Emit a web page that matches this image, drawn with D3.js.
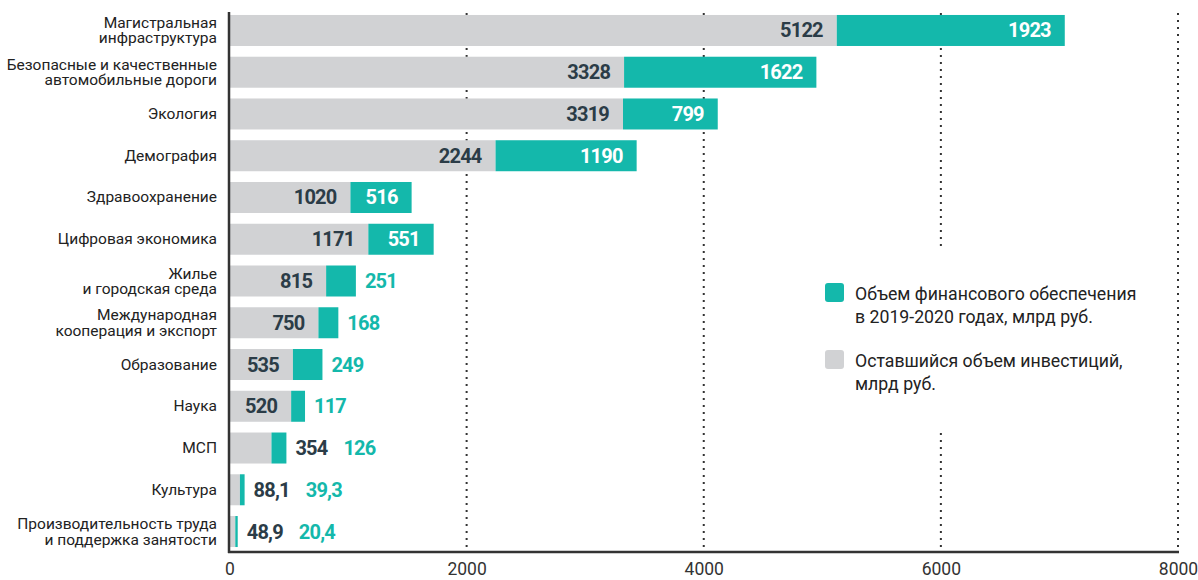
<!DOCTYPE html>
<html lang="ru">
<head>
<meta charset="utf-8">
<script src="https://cdn.jsdelivr.net/npm/d3@7"></script>
<style>
    html, body { margin: 0; padding: 0; background: #fff; }
    svg { display: block; font-family: Roboto, "Noto Sans", sans-serif; }
</style>
</head>
<body>
<svg id="chart" width="1198" height="580"></svg>
<script>
// national projects, bln rub
const categories = [
    "Магистральная\nинфраструктура",
    "Безопасные и качественные\nавтомобильные дороги",
    "Экология",
    "Демография",
    "Здравоохранение",
    "Цифровая экономика",
    "Жилье\nи городская среда",
    "Международная\nкооперация и экспорт",
    "Образование",
    "Наука",
    "МСП",
    "Культура",
    "Производительность труда\nи поддержка занятости",
];
const remaining = [5122, 3328, 3319, 2244, 1020, 1171, 815, 750, 535, 520, 354, 88.1, 48.9];
const funded = [1923, 1622, 799, 1190, 516, 551, 251, 168, 249, 117, 126, 39.3, 20.4];
const xTicks = [0, 2000, 4000, 6000, 8000];
const legendItems = [
    "Объем финансового обеспечения\nв 2019-2020 годах, млрд руб.",
    "Оставшийся объем инвестиций,\nмлрд руб.",
];

const TEAL = "#14b8ab";
const GRAY = "#d1d2d4";
const DARK = "#2b3c47";
const AXIS = "#333";

const svg = d3.select("#chart");

const x = d3.scaleLinear()
    .domain([0, 8000])
    .range([229.5, 1178]);

const y = d3.scaleBand()
    .domain(categories)
    .range([9.6, 552.4])
    .paddingInner(0.2575)
    .paddingOuter(0.1287);

const fmt = v => String(v).replace(".", ",");

// dotted grid, sits behind the bars
svg.append("g")
    .selectAll("line")
    .data(xTicks.filter(t => t > 0))
    .join("line")
    .attr("x1", d => x(d))
    .attr("x2", d => x(d))
    .attr("y1", 13)
    .attr("y2", 551)
    .attr("stroke", AXIS)
    .attr("stroke-width", 2)
    .attr("stroke-dasharray", "2,5");

// bars
const rows = categories.map((c, i) => ({ cat: c, rem: remaining[i], fund: funded[i] }));

const barG = svg.append("g");
barG.selectAll("rect.rem")
    .data(rows)
    .join("rect")
    .attr("class", "rem")
    .attr("x", x(0))
    .attr("y", d => y(d.cat))
    .attr("width", d => x(d.rem) - x(0))
    .attr("height", y.bandwidth())
    .attr("fill", GRAY);
barG.selectAll("rect.fund")
    .data(rows)
    .join("rect")
    .attr("class", "fund")
    .attr("x", d => x(d.rem))
    .attr("y", d => y(d.cat))
    .attr("width", d => x(d.rem + d.fund) - x(d.rem))
    .attr("height", y.bandwidth())
    .attr("fill", TEAL);

// value labels: inside the segment when it fits, otherwise after the bar
const PAD = 14;
const labelG = svg.append("g")
    .attr("font-weight", 700)
    .attr("font-size", 20)
    .attr("letter-spacing", -0.8);

rows.forEach(d => {
    const cy = y(d.cat) + y.bandwidth() / 2 + 7;
    const x0 = x(0), x1 = x(d.rem), x2 = x(d.rem + d.fund);

    const remText = labelG.append("text").attr("y", cy).attr("fill", DARK).text(fmt(d.rem));
    const remW = remText.node().getComputedTextLength();
    let cursor = x2 + 9;
    if (x1 - x0 >= remW + 20) {
        remText.attr("x", x1 - PAD).attr("text-anchor", "end");
    } else {
        remText.attr("x", cursor);
        cursor += remW + 16;
    }

    const fundText = labelG.append("text").attr("y", cy).text(fmt(d.fund));
    const fundW = fundText.node().getComputedTextLength();
    if (x2 - x1 >= fundW + 20) {
        fundText.attr("x", x2 - PAD).attr("text-anchor", "end").attr("fill", "#fff");
    } else {
        fundText.attr("x", cursor).attr("fill", TEAL);
    }
});

// category labels
const catG = svg.append("g")
    .attr("font-size", 15.5)
    .attr("fill", "#222")
    .attr("text-anchor", "end");

categories.forEach(c => {
    const lines = c.split("\n");
    const cy = y(c) + y.bandwidth() / 2;
    const t = catG.append("text")
        .attr("x", 217)
        .attr("y", lines.length === 1 ? cy + 5 : cy - 2.5);
    lines.forEach((line, i) => {
        t.append("tspan")
            .attr("x", 217)
            .attr("dy", i === 0 ? 0 : 15.5)
            .text(line);
    });
});

// axes
svg.append("line")
    .attr("x1", 229).attr("x2", 229)
    .attr("y1", 12).attr("y2", 553)
    .attr("stroke", AXIS)
    .attr("stroke-width", 2.5);
svg.append("line")
    .attr("x1", 228).attr("x2", 1179)
    .attr("y1", 552).attr("y2", 552)
    .attr("stroke", AXIS)
    .attr("stroke-width", 2.5);

const xAxis = svg.append("g")
    .attr("transform", "translate(0,552)")
    .call(d3.axisBottom(x).tickValues(xTicks).tickSize(0).tickPadding(11).tickFormat(d => d));
xAxis.select(".domain").remove();
xAxis.selectAll("text")
    .attr("font-family", "Roboto, sans-serif")
    .attr("font-size", 17.5)
    .attr("fill", AXIS);

// legend, on a white card that hides the grid behind it
const legend = svg.append("g");
legend.append("rect")
    .attr("x", 790).attr("y", 248)
    .attr("width", 370).attr("height", 185)
    .attr("fill", "#fff");

legendItems.forEach((item, i) => {
    const top = 283 + i * 67;
    legend.append("rect")
        .attr("x", 825).attr("y", top)
        .attr("width", 19).attr("height", 19)
        .attr("rx", 3)
        .attr("fill", i === 0 ? TEAL : GRAY);
    const t = legend.append("text")
        .attr("font-size", 17.7)
        .attr("fill", "#222");
    item.split("\n").forEach((line, j) => {
        t.append("tspan")
            .attr("x", 855)
            .attr("y", top + 17 + j * 23)
            .text(line);
    });
});
</script>
</body>
</html>
